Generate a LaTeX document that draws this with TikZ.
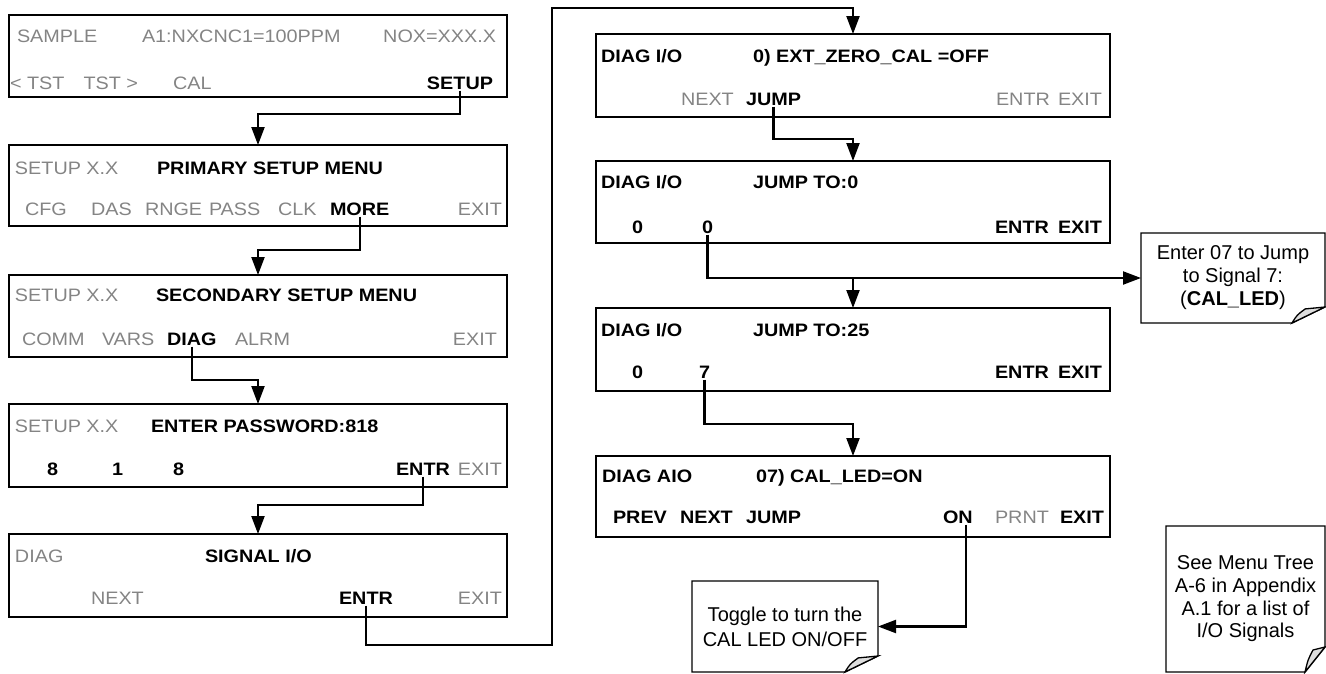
\documentclass[tikz,border=0pt]{standalone}
\usepackage{fontspec}
\setmainfont{Liberation Sans}
\newfontfamily\boxfont{Liberation Sans}[FakeStretch=1.1]
\usetikzlibrary{arrows.meta}
\definecolor{txtgray}{RGB}{132,132,132}
\definecolor{foldgray}{RGB}{222,222,222}
\newcommand\dogear[3]{%
  \draw[noteline] (#1.north west) -- (#1.north east) -- ([yshift=#3]#1.south east)
    -- ([xshift=-#2]#1.south east) -- (#1.south west) -- cycle;
  \filldraw[noteline, fill=foldgray] ([xshift=-#2]#1.south east)
    .. controls ([xshift=-0.85*#2, yshift=0.5*#3]#1.south east) .. ([xshift=-0.6*#2, yshift=0.88*#3]#1.south east)
    -- ([yshift=#3]#1.south east) -- cycle;}
\begin{document}
\begin{tikzpicture}[x=1pt,y=-1pt,
  panel/.style={draw, line width=2pt, anchor=north west, inner sep=0pt, outer sep=0pt},
  txt/.style={inner sep=0pt, outer sep=0pt, font=\boxfont\fontsize{18}{20}\selectfont},
  gr/.style={txt, text=txtgray},
  bd/.style={txt, font=\boxfont\bfseries\fontsize{18}{20}\selectfont},
  src/.style={outer ysep=1.5pt},
  aw/.style={anchor=base west},
  ae/.style={anchor=base east},
  conn/.style={line width=2.2pt, -{Triangle[length=18pt,width=13pt]}},
  noteline/.style={line width=1.3pt, line join=miter},
  note/.style={anchor=north west, inner sep=0pt, outer sep=0pt, align=center}]
\useasboundingbox (0,0) rectangle (1326,673);

% ---------- left column ----------
\node[panel, minimum width=498pt, minimum height=82pt] (b1) at (9,15) {};
\node[gr,aw] at (17,42) {SAMPLE};
\node[gr,aw] at (142,42) {A1:NXCNC1=100PPM};
\node[gr,ae] at (496,42) {NOX=XXX.X};
\node[gr,aw] at (10,89) {< TST};
\node[gr,ae] at (138,89) {TST >};
\node[gr,aw] at (173,89) {CAL};
\node[bd,ae,src] (setup) at (493,89) {SETUP};

\node[panel, minimum width=498pt, minimum height=81pt] (b2) at (9,145) {};
\node[gr,aw] at (15,174) {SETUP X.X};
\node[bd,aw] at (157,174) {PRIMARY SETUP MENU};
\node[gr,aw] at (25,215) {CFG};
\node[gr,aw] at (91,215) {DAS};
\node[gr,aw] at (145,215) {RNGE};
\node[gr,aw] at (209,215) {PASS};
\node[gr,aw] at (278,215) {CLK};
\node[bd,aw,src] (more) at (330,215) {MORE};
\node[gr,ae] at (502,215) {EXIT};

\node[panel, minimum width=498pt, minimum height=82pt] (b3) at (9,275) {};
\node[gr,aw] at (15,301) {SETUP X.X};
\node[bd,aw] at (156,301) {SECONDARY SETUP MENU};
\node[gr,aw] at (22,345) {COMM};
\node[gr,aw] at (102,345) {VARS};
\node[bd,aw,src] (diag) at (167,345) {DIAG};
\node[gr,aw] at (235,345) {ALRM};
\node[gr,ae] at (497,345) {EXIT};

\node[panel, minimum width=498pt, minimum height=83pt] (b4) at (9,404) {};
\node[gr,aw] at (15,432) {SETUP X.X};
\node[bd,aw] at (151,432) {ENTER PASSWORD:818};
\node[bd,aw] at (47,475) {8};
\node[bd,aw] at (112,475) {1};
\node[bd,aw] at (173,475) {8};
\node[bd,aw,src] (entra) at (396,475) {ENTR};
\node[gr,ae] at (502,475) {EXIT};

\node[panel, minimum width=498pt, minimum height=83pt] (b5) at (9,534) {};
\node[gr,aw] at (15,562) {DIAG};
\node[bd,aw] at (205,562) {SIGNAL I/O};
\node[gr,aw] at (91,604) {NEXT};
\node[bd,aw,src] (entrb) at (339,604) {ENTR};
\node[gr,ae] at (502,604) {EXIT};

% ---------- right column ----------
\node[panel, minimum width=514pt, minimum height=83pt] (b6) at (596,34) {};
\node[bd,aw] at (601,62) {DIAG I/O};
\node[bd,aw] at (753,62) {0) EXT\_ZERO\_CAL =OFF};
\node[gr,aw] at (681,105) {NEXT};
\node[bd,aw,src] (jump) at (746,105) {JUMP};
\node[gr,aw] at (996,105) {ENTR};
\node[gr,ae] at (1102,105) {EXIT};

\node[panel, minimum width=514pt, minimum height=82pt] (b7) at (596,161) {};
\node[bd,aw] at (601,188) {DIAG I/O};
\node[bd,aw] at (753,188) {JUMP TO:0};
\node[bd,aw] at (632,233) {0};
\node[bd,aw,src] (zeroa) at (702,233) {0};
\node[bd,aw] at (995,233) {ENTR};
\node[bd,ae] at (1102,233) {EXIT};

\node[panel, minimum width=514pt, minimum height=83pt] (b8) at (596,308) {};
\node[bd,aw] at (601,336) {DIAG I/O};
\node[bd,aw] at (753,336) {JUMP TO:25};
\node[bd,aw] at (632,378) {0};
\node[bd,aw,src] (sevena) at (699,378) {7};
\node[bd,aw] at (995,378) {ENTR};
\node[bd,ae] at (1102,378) {EXIT};

\node[panel, minimum width=514pt, minimum height=81pt] (b9) at (596,456) {};
\node[bd,aw] at (602,482) {DIAG AIO};
\node[bd,aw] at (756,482) {07) CAL\_LED=ON};
\node[bd,aw] at (613,523) {PREV};
\node[bd,aw] at (680,523) {NEXT};
\node[bd,aw] at (746,523) {JUMP};
\node[bd,aw,src] (onb) at (943,523) {ON};
\node[gr,aw] at (995,523) {PRNT};
\node[bd,ae] at (1104,523) {EXIT};

% ---------- notes ----------
\node[note, minimum width=186pt, minimum height=91pt, font=\fontsize{20}{25}\selectfont] (n1) at (692,581)
  {Toggle to turn the\\CAL LED ON/OFF};
\node[note, minimum width=184pt, minimum height=90pt, font=\fontsize{20}{23}\selectfont] (n2) at (1141,233)
  {Enter 07 to Jump\\to Signal 7:\\(\textbf{CAL\_LED})};
\node[note, minimum width=159pt, minimum height=146pt, font=\fontsize{20}{22.7}\selectfont] (n3) at (1166,526)
  {See Menu Tree\\A-6 in Appendix\\A.1 for a list of\\I/O Signals};
\dogear{n1}{33pt}{16pt}
\dogear{n2}{33pt}{16pt}
\dogear{n3}{20pt}{25pt}

% ---------- connectors ----------
\coordinate (c1) at (552,645);
\coordinate (c2) at (552,8);
\draw[conn] (setup.south) |- ([yshift=31pt]b2.north) -- (b2.north);
\draw[conn] (more.south) |- ([yshift=25pt]b3.north) -- (b3.north);
\draw[conn] (diag.south) |- ([yshift=24pt]b4.north) -- (b4.north);
\draw[conn] (entra.south) |- ([yshift=29pt]b5.north) -- (b5.north);
\draw[conn, line join=miter] (entrb.south) |- (c1) -- (c2) -| (b6.north);
\draw[conn] (jump.south) |- ([yshift=22pt]b7.north) -- (b7.north);
\draw[conn] (zeroa.south) |- (n2.west);
\draw[conn] (b8.north |- n2.west) -- (b8.north);
\draw[conn] (sevena.south) |- ([yshift=32pt]b9.north) -- (b9.north);
\draw[conn] ([xshift=8.5pt]onb.south) |- (n1.east);
\end{tikzpicture}
\end{document}
